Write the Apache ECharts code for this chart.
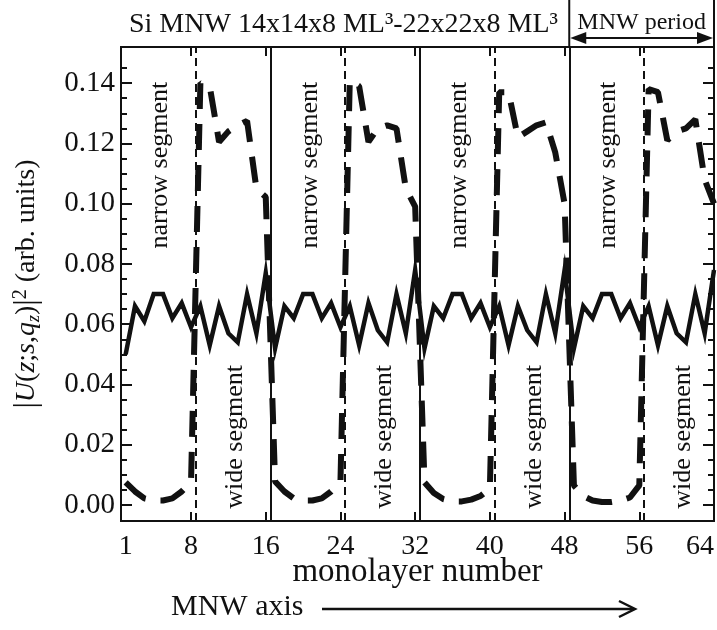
<!DOCTYPE html>
<html>
<head>
<meta charset="utf-8">
<script src="https://cdn.jsdelivr.net/npm/echarts@6/dist/echarts.min.js"></script>
<style>
  html, body { margin: 0; padding: 0; background: #ffffff; }
  #chart { width: 717px; height: 630px; }
</style>
</head>
<body>
<div id="chart"></div>
<script>
// Monolayer index along the modulated nanowire (4 periods of 16 monolayers)
const monolayers = [
  1, 2, 3, 4, 5, 6, 7, 8, 9, 10, 11, 12, 13, 14, 15, 16,
  17, 18, 19, 20, 21, 22, 23, 24, 25, 26, 27, 28, 29, 30, 31, 32,
  33, 34, 35, 36, 37, 38, 39, 40, 41, 42, 43, 44, 45, 46, 47, 48,
  49, 50, 51, 52, 53, 54, 55, 56, 57, 58, 59, 60, 61, 62, 63, 64
];

// |U(z;s,qz)|^2, solid curve
const solidDensity = [
  0.050, 0.066, 0.061, 0.070, 0.070, 0.062, 0.067, 0.059, 0.066, 0.053, 0.066, 0.057, 0.054, 0.070, 0.057, 0.077,
  0.052, 0.066, 0.062, 0.070, 0.070, 0.062, 0.067, 0.059, 0.066, 0.053, 0.067, 0.058, 0.054, 0.070, 0.057, 0.078,
  0.052, 0.066, 0.062, 0.070, 0.070, 0.062, 0.067, 0.059, 0.066, 0.053, 0.066, 0.058, 0.054, 0.070, 0.057, 0.078,
  0.052, 0.066, 0.062, 0.070, 0.070, 0.062, 0.067, 0.059, 0.066, 0.053, 0.066, 0.057, 0.054, 0.070, 0.057, 0.078
];

// |U(z;s,qz)|^2, dashed curve
const dashedDensity = [
  0.0075, 0.0045, 0.0022, 0.0015, 0.0015, 0.0022, 0.0045, 0.0078, 0.140, 0.139, 0.1205, 0.124, 0.126, 0.1275, 0.105, 0.1022,
  0.0078, 0.0045, 0.0022, 0.0015, 0.0015, 0.0022, 0.0045, 0.0078, 0.141, 0.139, 0.1205, 0.125, 0.126, 0.125, 0.105, 0.099,
  0.0075, 0.0040, 0.0020, 0.0012, 0.0012, 0.0018, 0.0030, 0.0055, 0.137, 0.137, 0.122, 0.124, 0.126, 0.127, 0.117, 0.100,
  0.0065, 0.0030, 0.0015, 0.0010, 0.0010, 0.0015, 0.0025, 0.0065, 0.138, 0.137, 0.121, 0.124, 0.125, 0.128, 0.108, 0.100
];

// Axis ticks and labels
const xTickLabels = [1, 8, 16, 24, 32, 40, 48, 56, 64];
const xTickMarks = [8, 16, 24, 32, 40, 48, 56];
const yTickLabels = [0, 0.02, 0.04, 0.06, 0.08, 0.10, 0.12, 0.14];
const yMinorTicks = [0.005, 0.01, 0.015, 0.025, 0.03, 0.035, 0.045, 0.05, 0.055,
  0.065, 0.07, 0.075, 0.085, 0.09, 0.095, 0.105, 0.11, 0.115, 0.125, 0.13, 0.135, 0.145];

// Structure of the wire: period ends (solid) and narrow/wide interfaces (dashed)
const periodBoundaries = [16.5, 32.5, 48.5];
const segmentBoundaries = [8.5, 24.5, 40.5, 56.5];
const narrowCentres = [4.5, 20.5, 36.5, 52.5];
const wideCentres = [12.5, 28.5, 44.5, 60.5];

const X_MIN = 0.5, X_MAX = 64;
const Y_MIN = -0.0053, Y_MAX = 0.152;
const FONT = '"Liberation Serif", "Times New Roman", serif';
const INK = '#111111';

const chart = echarts.init(document.getElementById('chart'), null, { renderer: 'canvas' });

function xAxisDef(position, showLabels) {
  return {
    type: 'value', position: position, min: X_MIN, max: X_MAX,
    axisLine: { show: true, onZero: false, lineStyle: { color: INK, width: 2 } },
    axisTick: { show: true, inside: true, length: 9, customValues: xTickMarks, lineStyle: { color: INK, width: 2 } },
    axisLabel: showLabels ? {
      show: true, customValues: xTickLabels, fontFamily: FONT, fontSize: 28, color: INK, margin: 12,
      alignMaxLabel: 'right'
    } : { show: false },
    splitLine: { show: false },
    name: showLabels ? 'monolayer number' : '',
    nameLocation: 'middle', nameGap: 35, nameMoveOverlap: false,
    nameTextStyle: { fontFamily: FONT, fontSize: 33, color: INK }
  };
}

function yAxisDef(position, major, withName) {
  return {
    type: 'value', position: position, min: Y_MIN, max: Y_MAX,
    axisLine: { show: true, onZero: false, lineStyle: { color: INK, width: 2 } },
    axisTick: { show: true, inside: true, length: major ? 11 : 6,
      customValues: major ? yTickLabels : yMinorTicks, lineStyle: { color: INK, width: 2 } },
    axisLabel: (major && position === 'left') ? {
      show: true, customValues: yTickLabels, fontFamily: FONT, fontSize: 29, color: INK, margin: 6,
      formatter: v => v.toFixed(2)
    } : { show: false },
    splitLine: { show: false },
    name: withName ? '{bar||}{it|U}{rm|(}{it|z}{rm|;}{it|s}{rm|,}{it|q}{sub|z}{rm|)}{bar||}{sup|2}{rm| (arb. units)}' : '',
    nameLocation: 'middle', nameRotate: 90, nameGap: 78, nameMoveOverlap: false,
    nameTextStyle: {
      fontFamily: FONT, fontSize: 28, color: INK,
      rich: {
        rm: { fontFamily: FONT, fontSize: 28, color: INK },
        it: { fontFamily: FONT, fontSize: 28, fontStyle: 'italic', color: INK },
        bar: { fontFamily: FONT, fontSize: 32, color: INK },
        sub: { fontFamily: FONT, fontSize: 18, fontStyle: 'italic', color: INK, verticalAlign: 'bottom', lineHeight: 20 },
        sup: { fontFamily: FONT, fontSize: 20, color: INK, verticalAlign: 'top', lineHeight: 20 }
      }
    }
  };
}

const option = {
  animation: false,
  backgroundColor: '#ffffff',
  title: {
    text: 'Si MNW 14x14x8 ML\u00B3-22x22x8 ML\u00B3',
    left: 124, top: 6,
    textStyle: { fontFamily: FONT, fontSize: 28, fontWeight: 'normal', color: INK }
  },
  grid: { left: 121, right: 3, top: 47, bottom: 109, containLabel: false },
  xAxis: [xAxisDef('bottom', true), xAxisDef('top', false)],
  yAxis: [
    yAxisDef('left', true, true),
    yAxisDef('left', false, false),
    yAxisDef('right', true, false),
    yAxisDef('right', false, false)
  ],
  series: [
    {
      name: 'interfaces', type: 'line', data: [], xAxisIndex: 0, yAxisIndex: 0,
      markLine: {
        silent: true, symbol: ['none', 'none'], label: { show: false },
        data: periodBoundaries.map(x => ({ xAxis: x, lineStyle: { color: INK, width: 2, type: 'solid' } }))
          .concat(segmentBoundaries.map(x => ({ xAxis: x, lineStyle: { color: INK, width: 2, type: [8, 5] } })))
      }
    },
    {
      name: 'solid', type: 'line', xAxisIndex: 0, yAxisIndex: 0,
      data: monolayers.map((m, i) => [m, solidDensity[i]]),
      showSymbol: false, symbol: 'none',
      lineStyle: { color: INK, width: 4.5, join: 'miter' }
    },
    {
      name: 'dashed', type: 'line', xAxisIndex: 0, yAxisIndex: 0,
      data: monolayers.map((m, i) => [m, dashedDensity[i]]),
      showSymbol: false, symbol: 'none',
      lineStyle: { color: INK, width: 6, type: [26, 15], cap: 'butt' }
    }
  ]
};

chart.setOption(option);

// Text and arrows placed from axis coordinates
function annotate() {
  const px = v => chart.convertToPixel({ xAxisIndex: 0 }, v);
  const py = v => chart.convertToPixel({ yAxisIndex: 0 }, v);
  const top = py(Y_MAX);
  const g = [];
  const textStyle = (text, size, align) => ({
    text: text, fontFamily: FONT, fontSize: size, fill: INK,
    align: align || 'center', verticalAlign: 'middle'
  });

  narrowCentres.forEach(c => g.push({
    type: 'text', x: px(c) + 2, y: py(0.1128), rotation: Math.PI / 2,
    style: textStyle('narrow segment', 26)
  }));
  wideCentres.forEach(c => g.push({
    type: 'text', x: px(c) + 2, y: py(0.0226), rotation: Math.PI / 2,
    style: textStyle('wide segment', 26)
  }));

  // One period of the wire, marked above the frame
  const xl = px(periodBoundaries[2]);
  const xr = px(X_MAX);
  const ya = top - 9;
  g.push({ type: 'line', shape: { x1: xl, y1: 0, x2: xl, y2: top }, style: { stroke: INK, lineWidth: 2 } });
  g.push({ type: 'line', shape: { x1: xr, y1: 0, x2: xr, y2: top }, style: { stroke: INK, lineWidth: 2 } });
  g.push({ type: 'line', shape: { x1: xl + 10, y1: ya, x2: xr - 10, y2: ya }, style: { stroke: INK, lineWidth: 2 } });
  g.push({ type: 'polygon', shape: { points: [[xl + 1, ya], [xl + 17, ya - 6], [xl + 17, ya + 6]] }, style: { fill: INK } });
  g.push({ type: 'polygon', shape: { points: [[xr - 1, ya], [xr - 17, ya - 6], [xr - 17, ya + 6]] }, style: { fill: INK } });
  g.push({ type: 'text', x: (xl + xr) / 2, y: ya - 15, style: textStyle('MNW period', 24) });

  // Direction along the wire
  const ay = 609;
  g.push({ type: 'text', x: 171, y: ay - 2, style: textStyle('MNW axis', 30, 'left') });
  g.push({ type: 'line', shape: { x1: 322, y1: ay, x2: 634, y2: ay }, style: { stroke: INK, lineWidth: 2.5 } });
  g.push({ type: 'polyline', shape: { points: [[619, ay - 8], [635, ay], [619, ay + 8]] }, style: { stroke: INK, lineWidth: 2.5, fill: null } });

  chart.setOption({ graphic: g });
}
annotate();
</script>
</body>
</html>
